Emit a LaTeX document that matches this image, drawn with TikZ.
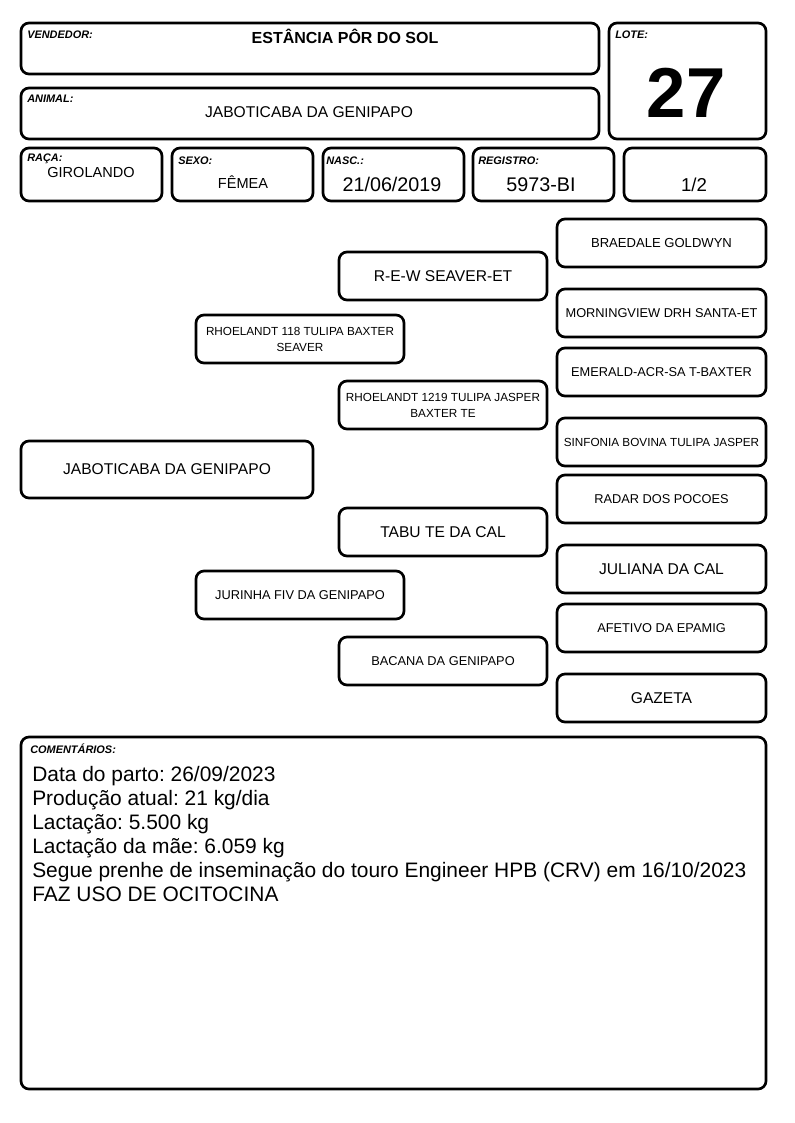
\documentclass[tikz,border=0pt]{standalone}
\usepackage{fontspec}
\setmainfont{Liberation Sans}
\frenchspacing
\newcommand\pfL{\fontsize{11.7}{14}\selectfont}
\newcommand\pfM{\fontsize{9.6}{12}\selectfont}
\newcommand\pfS{\fontsize{8.8}{12}\selectfont}
\newcommand\pbx[6][]{\node[box, minimum width={(#5-#3)*0.75pt}, minimum height={(#6-#4)*0.75pt}, #1] (#2) at ({(#3+#5)/2},{(#4+#6)/2}) {};}
\newcommand\pped[7][]{\node[box, minimum width={(#5-#3)*0.75pt}, minimum height={(#6-#4)*0.75pt}, #1] (#2) at ({(#3+#5)/2},{(#4+#6)/2}) {#7};}
\tikzset{
  box/.style={draw, line width=2pt, rounded corners=6pt, inner sep=0pt, align=center},
  lbl/.style={font=\fontsize{8.2}{9}\selectfont\bfseries\itshape, anchor=base west, inner sep=0pt},
  val/.style={anchor=base, inner sep=0pt},
  cmt/.style={font=\fontsize{15.7}{18}\selectfont, anchor=base west, inner sep=0pt}
}
\begin{document}
\frenchspacing
\begin{tikzpicture}[x=0.75pt,y=-0.75pt]
\useasboundingbox (0,0) rectangle (794,1123);
% header boxes
\pbx{vend}{21}{23}{599}{74}
\pbx{anim}{21}{88}{599}{139}
\pbx{lote}{609}{23}{766}{139}
\pbx{raca}{21}{148}{162}{201}
\pbx{sexo}{172}{148}{313}{201}
\pbx{nasc}{323}{148}{464}{201}
\pbx{reg}{473}{148}{614}{201}
\pbx{frac}{624}{148}{766}{201}
% header texts
\node[lbl] (lvend) at (27,39) {VENDEDOR:};
\node[val, font=\fontsize{12}{14}\selectfont\bfseries] (tvend) at (345,44) {ESTÂNCIA PÔR DO SOL};
\node[lbl] (lanim) at (27,103) {ANIMAL:};
\node[val, font=\fontsize{11.7}{14}\selectfont] (tanim) at (309,118) {JABOTICABA DA GENIPAPO};
\node[lbl] (llote) at (615,39) {LOTE:};
\node[val, font=\fontsize{53}{60}\selectfont\bfseries] (tlote) at (686,118) {27};
\node[lbl] (lraca) at (27,162) {RAÇA:};
\node[val, font=\fontsize{10.9}{13}\selectfont] (traca) at (91,178) {GIROLANDO};
\node[lbl] (lsexo) at (178,165) {SEXO:};
\node[val, font=\fontsize{10.9}{13}\selectfont] (tsexo) at (243,189) {FÊMEA};
\node[lbl] (lnasc) at (326,165) {NASC.:};
\node[val, font=\fontsize{14.8}{17}\selectfont] (tnasc) at (392,192) {21/06/2019};
\node[lbl] (lreg) at (478,165) {REGISTRO:};
\node[val, font=\fontsize{14.8}{17}\selectfont] (treg) at (541,192) {5973-BI};
\node[val, font=\fontsize{14}{17}\selectfont] (tfrac) at (694,192) {1/2};
% pedigree
\pped[font=\fontsize{9.8}{12}\selectfont]{p1}{557}{219}{766}{267}{BRAEDALE GOLDWYN}
\pped[font=\pfL]{p2}{339}{252}{547}{300}{R-E-W SEAVER-ET}
\pped[font=\pfM]{p3}{557}{289}{766}{337}{MORNINGVIEW DRH SANTA-ET}
\pped[font=\pfS]{p4}{196}{315}{404}{363}{RHOELANDT 118 TULIPA BAXTER\\SEAVER}
\pped[font=\pfM]{p5}{557}{348}{766}{396}{EMERALD-ACR-SA T-BAXTER}
\pped[font=\pfS]{p6}{339}{381}{547}{429}{RHOELANDT 1219 TULIPA JASPER\\BAXTER TE}
\pped[font=\pfS]{p7}{557}{418}{766}{466}{SINFONIA BOVINA TULIPA JASPER}
\pped[font=\pfL]{p8}{21}{441}{313}{498}{JABOTICABA DA GENIPAPO}
\pped[font=\pfM]{p9}{557}{475}{766}{523}{RADAR DOS POCOES}
\pped[font=\pfL]{p10}{339}{508}{547}{556}{TABU TE DA CAL}
\pped[font=\pfL]{p11}{557}{545}{766}{593}{JULIANA DA CAL}
\pped[font=\pfM]{p12}{196}{571}{404}{619}{JURINHA FIV DA GENIPAPO}
\pped[font=\pfM]{p13}{557}{604}{766}{652}{AFETIVO DA EPAMIG}
\pped[font=\pfM]{p14}{339}{637}{547}{685}{BACANA DA GENIPAPO}
\pped[font=\pfL]{p15}{557}{674}{766}{722}{GAZETA}
% comments
\pbx{com}{21}{737}{766}{1089}
\node[lbl] (lcom) at (30,753) {COMENTÁRIOS:};
\node[cmt] (c1) at (32,781) {Data do parto: 26/09/2023};
\node[cmt] (c2) at (32,805) {Produção atual: 21 kg/dia};
\node[cmt] (c3) at (32,829) {Lactação: 5.500 kg};
\node[cmt] (c4) at (32,853) {Lactação da mãe: 6.059 kg};
\node[cmt] (c5) at (32,877) {Segue prenhe de inseminação do touro Engineer HPB (CRV) em 16/10/2023};
\node[cmt] (c6) at (32,901) {FAZ USO DE OCITOCINA};
\end{tikzpicture}
\end{document}
